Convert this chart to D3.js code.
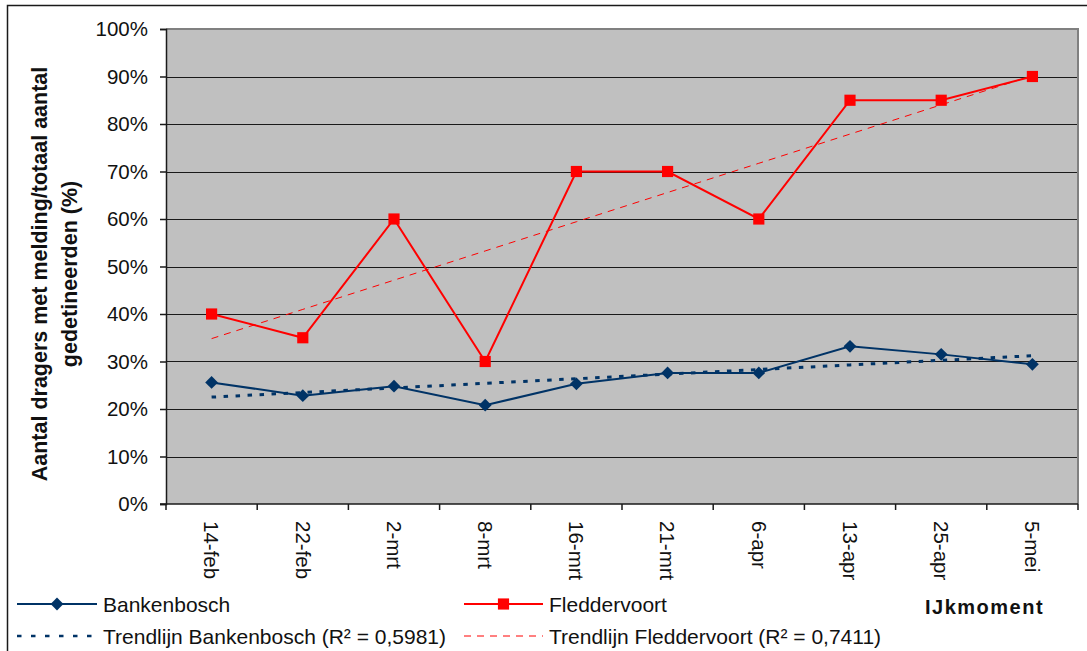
<!DOCTYPE html>
<html>
<head>
<meta charset="utf-8">
<script src="https://cdn.jsdelivr.net/npm/d3@7"></script>
<style>
  html, body { margin: 0; padding: 0; background: #ffffff; }
  svg { display: block; font-family: Arial, "Liberation Sans", sans-serif; }
</style>
</head>
<body>
<svg id="chart" width="1087" height="651"></svg>
<script>
// Meetmomenten (x-as)
const categories = ["14-feb", "22-feb", "2-mrt", "8-mrt", "16-mrt", "21-mrt", "6-apr", "13-apr", "25-apr", "5-mei"];

// Aandeel dragers met melding per locatie (fractie van totaal)
const bankenbosch = [0.256, 0.228, 0.248, 0.208, 0.253, 0.276, 0.276, 0.332, 0.315, 0.294];
const fleddervoort = [0.40, 0.35, 0.60, 0.30, 0.70, 0.70, 0.60, 0.85, 0.85, 0.90];

// y-as ticks
const yTicks = [0, 0.1, 0.2, 0.3, 0.4, 0.5, 0.6, 0.7, 0.8, 0.9, 1.0];

// Legendateksten
const seriesNames = ["Bankenbosch", "Fleddervoort"];
const trendNames = ["Trendlijn Bankenbosch (R² = 0,5981)", "Trendlijn Fleddervoort (R² = 0,7411)"];
const yTitleLines = ["Aantal dragers met melding/totaal aantal", "gedetineerden (%)"];
const xTitle = "IJkmoment";

const colBlue = "#003366";
const colRed = "#ff0000";

const svg = d3.select("#chart");

// Buitenkader van de grafiek
svg.append("path")
  .attr("d", "M7.5,651 L7.5,5.5 L1087,5.5")
  .attr("fill", "none")
  .attr("stroke", "#1a1a1a")
  .attr("stroke-width", 1.5);

const plot = { left: 166, top: 29, right: 1078, bottom: 504 };

const x = d3.scaleBand().domain(categories).range([plot.left, plot.right]).padding(0);
const y = d3.scaleLinear().domain([0, 1]).range([plot.bottom, plot.top]);
const cx = c => x(c) + x.bandwidth() / 2;

// Plotgebied
svg.append("rect")
  .attr("x", plot.left).attr("y", plot.top)
  .attr("width", plot.right - plot.left).attr("height", plot.bottom - plot.top)
  .attr("fill", "#c0c0c0");

// Horizontale rasterlijnen
svg.append("g")
  .selectAll("line")
  .data(yTicks.filter(t => t > 0 && t < 1))
  .join("line")
  .attr("x1", plot.left).attr("x2", plot.right)
  .attr("y1", d => Math.round(y(d)) + 0.5).attr("y2", d => Math.round(y(d)) + 0.5)
  .attr("stroke", "#1a1a1a").attr("stroke-width", 1);

// Rand boven en rechts (grijs)
svg.append("path")
  .attr("d", `M${plot.left},${plot.top} L${plot.right},${plot.top} L${plot.right},${plot.bottom}`)
  .attr("fill", "none").attr("stroke", "#808080").attr("stroke-width", 2);

// y-as
const yAxis = d3.axisLeft(y)
  .tickValues(yTicks)
  .tickFormat(d3.format(".0%"))
  .tickSize(6)
  .tickPadding(12);
const gy = svg.append("g")
  .attr("transform", `translate(${plot.left},0)`)
  .call(yAxis);
gy.select(".domain").attr("stroke", "#1a1a1a").attr("stroke-width", 1.5);
gy.selectAll(".tick line").attr("stroke", "#1a1a1a").attr("stroke-width", 1.5);
gy.selectAll(".tick text")
  .attr("font-size", "20.5px").attr("fill", "#111")
  .attr("font-family", "Arial, 'Liberation Sans', sans-serif");

// x-as: streepjes op de grenzen van de categorieën
const gx = svg.append("g");
gx.append("line")
  .attr("x1", plot.left - 6).attr("x2", plot.right)
  .attr("y1", plot.bottom).attr("y2", plot.bottom)
  .attr("stroke", "#1a1a1a").attr("stroke-width", 1.5);
const bounds = categories.map(c => x(c)).concat([plot.right]);
gx.selectAll("line.tk")
  .data(bounds)
  .join("line")
  .attr("class", "tk")
  .attr("x1", d => d).attr("x2", d => d)
  .attr("y1", plot.bottom).attr("y2", plot.bottom + 6)
  .attr("stroke", "#1a1a1a").attr("stroke-width", 1.5);
gx.selectAll("text")
  .data(categories)
  .join("text")
  .attr("transform", d => `translate(${cx(d)},${plot.bottom + 17}) rotate(90)`)
  .attr("text-anchor", "start")
  .attr("dy", "0.35em")
  .attr("font-size", "20.5px")
  .attr("fill", "#111")
  .text(d => d);

// y-astitel (twee regels)
const yTitle = svg.append("text")
  .attr("transform", `translate(47,274) rotate(-90)`)
  .attr("text-anchor", "middle")
  .attr("font-size", "21.5px")
  .attr("font-weight", "bold")
  .attr("fill", "#111");
yTitleLines.forEach((t, i) => {
  yTitle.append("tspan").attr("x", 0).attr("dy", i === 0 ? 0 : 29.5).text(t);
});

// Lineaire trendlijn (kleinste kwadraten) over de meetmomenten
function trend(values) {
  const idx = values.map((_, i) => i);
  const mx = d3.mean(idx), my = d3.mean(values);
  const sxy = d3.sum(idx, i => (i - mx) * (values[i] - my));
  const sxx = d3.sum(idx, i => (i - mx) * (i - mx));
  const b = sxy / sxx, a = my - b * mx;
  return values.map((_, i) => a + b * i);
}

const line = d3.line().x((d, i) => cx(categories[i])).y(d => y(d));

// Trendlijnen
svg.append("path")
  .datum(trend(bankenbosch))
  .attr("d", line)
  .attr("fill", "none").attr("stroke", colBlue)
  .attr("stroke-width", 3).attr("stroke-dasharray", "4.5,7.5");
svg.append("path")
  .datum(trend(fleddervoort))
  .attr("d", line)
  .attr("fill", "none").attr("stroke", colRed)
  .attr("stroke-width", 1).attr("stroke-dasharray", "7,6");

// Reekslijnen
svg.append("path")
  .datum(bankenbosch)
  .attr("d", line)
  .attr("fill", "none").attr("stroke", colBlue).attr("stroke-width", 2);
svg.append("path")
  .datum(fleddervoort)
  .attr("d", line)
  .attr("fill", "none").attr("stroke", colRed).attr("stroke-width", 2);

// Markers
const diamond = d3.symbol().type(d3.symbolSquare).size(82);
const square = d3.symbol().type(d3.symbolSquare).size(125);

svg.append("g").selectAll("path")
  .data(bankenbosch)
  .join("path")
  .attr("d", diamond)
  .attr("transform", (d, i) => `translate(${cx(categories[i])},${y(d)}) rotate(45)`)
  .attr("fill", colBlue);

svg.append("g").selectAll("path")
  .data(fleddervoort)
  .join("path")
  .attr("d", square)
  .attr("transform", (d, i) => `translate(${cx(categories[i])},${y(d)})`)
  .attr("fill", colRed);

// Legenda
const legend = svg.append("g").attr("font-size", "21px").attr("fill", "#111");
const legendItems = [
  { x0: 17, x1: 97, y: 604, color: colBlue, width: 2, dash: null, marker: "diamond", label: seriesNames[0] },
  { x0: 464, x1: 543, y: 604, color: colRed, width: 2, dash: null, marker: "square", label: seriesNames[1] },
  { x0: 17, x1: 97, y: 636, color: colBlue, width: 2.5, dash: "4.5,9.5", marker: null, label: trendNames[0] },
  { x0: 464, x1: 543, y: 636, color: colRed, width: 1, dash: "7,6", marker: null, label: trendNames[1] }
];
legendItems.forEach(it => {
  legend.append("line")
    .attr("x1", it.x0).attr("x2", it.x1)
    .attr("y1", it.y).attr("y2", it.y)
    .attr("stroke", it.color).attr("stroke-width", it.width)
    .attr("stroke-dasharray", it.dash);
  const mx = (it.x0 + it.x1) / 2;
  if (it.marker === "diamond") {
    legend.append("path")
      .attr("d", diamond)
      .attr("transform", `translate(${mx},${it.y}) rotate(45)`)
      .attr("fill", it.color);
  } else if (it.marker === "square") {
    legend.append("path")
      .attr("d", square)
      .attr("transform", `translate(${mx},${it.y})`)
      .attr("fill", it.color);
  }
  legend.append("text")
    .attr("x", it.x1 + 6).attr("y", it.y)
    .attr("dy", "0.36em")
    .text(it.label);
});

// x-astitel
svg.append("text")
  .attr("x", 925).attr("y", 607)
  .attr("dy", "0.36em")
  .attr("text-anchor", "start")
  .attr("font-size", "20px")
  .attr("font-weight", "bold")
  .attr("letter-spacing", "1.5px")
  .attr("fill", "#111")
  .text(xTitle);
</script>
</body>
</html>
